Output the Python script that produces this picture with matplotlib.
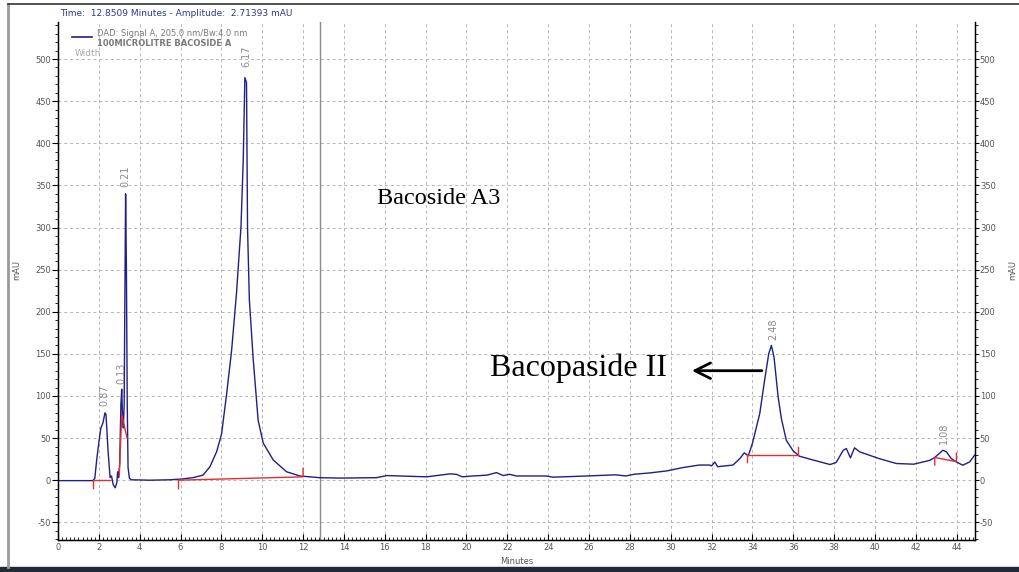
import matplotlib.pyplot as plt
from matplotlib.lines import Line2D
from matplotlib.patches import Rectangle
from matplotlib.ticker import MultipleLocator


# ------------------------------------------------------------
# DATI (letti dal cromatogramma)
# ------------------------------------------------------------

time_min = [
    0.0, 1.7, 1.8, 1.9, 2.0, 2.1, 2.2, 2.3, 2.35, 2.45, 2.55, 2.62, 2.7,
    2.8, 2.88, 2.92, 2.97, 3.02, 3.08, 3.12, 3.16, 3.2, 3.24, 3.27, 3.31,
    3.35, 3.39, 3.43, 3.5, 3.6, 4.5, 5.5, 6.1, 6.6, 7.1, 7.44, 7.77, 8.01,
    8.26, 8.5, 8.74, 8.96, 9.07, 9.15, 9.23, 9.28, 9.37, 9.56, 9.8, 10.05,
    10.54, 11.19, 11.85, 12.8, 13.8, 15.6, 16.1, 18.05, 18.7, 19.2, 19.5,
    19.8, 20.3, 21.0, 21.47, 21.8, 22.1, 22.45, 23.9, 24.25, 25.9, 27.3,
    27.8, 28.2, 29.0, 29.8, 30.6, 31.4, 31.9, 32.0, 32.16, 32.3, 33.05,
    33.4, 33.6, 33.8, 34.0, 34.36, 34.6, 34.8, 34.93, 35.06, 35.26, 35.42,
    35.66, 35.99, 36.3, 36.97, 37.8, 38.1, 38.45, 38.6, 38.8, 39.0, 39.26,
    40.2, 41.05, 41.9, 42.7, 42.93, 43.33, 43.5, 43.74, 43.99, 44.3,
    44.64, 44.88,
]

signal_mau = [
    -0.5, -0.5, 2, 25, 45, 62, 68, 80, 78, 35, 3, 5, -5,
    -9, -3, 10, 3, 20, 90, 108, 75, 62, 90, 200, 340,
    250, 90, 15, 2, 0.5, 0, 0.5, 1.5, 3, 6, 16, 34, 55,
    103, 154, 222, 301, 380, 478, 472, 300, 214, 143, 71, 44,
    24, 10, 5, 3, 2.5, 3, 5.5, 4, 6, 7.5, 7,
    4, 5, 6, 9, 5.5, 7, 5, 5, 3.6, 5, 6.4,
    5, 7, 8.7, 11, 15, 18, 18, 17, 21.5, 16, 18,
    26, 32.5, 29, 43.6, 79, 119, 150, 160, 146, 99, 73,
    47.5, 35, 28.5, 24, 18.6, 21, 35.6, 37.6, 26.5, 38.4, 33.6,
    25.7, 19.8, 19, 23.7, 27, 35.6, 33.6, 25.7, 21.7, 17.8,
    21.7, 29.7,
]

# Linee di integrazione (rosse)
integration_lines = [
    ([1.73, 1.73, 2.55], [-9, 0, 0]),
    ([3.0, 3.12, 3.38], [5, 78, 50]),
    ([5.9, 5.9, 12.0, 12.0], [-10, 0, 4, 14]),
    ([33.76, 33.76, 36.24, 36.24], [22, 30, 30, 39]),
    ([42.93, 42.93, 43.99, 43.99], [18, 27, 22, 32]),
]

peak_labels = ["0.87", "0.13", "0.21", "6.17", "2.48", "1.08"]
peak_label_time = [2.25, 3.1, 3.32, 9.2, 35.0, 43.4]
peak_label_height = [88, 114, 348, 490, 166, 43]

cursor_time = 12.85


# ------------------------------------------------------------
# FIGURA
# ------------------------------------------------------------

plt.rcParams["axes.unicode_minus"] = False

W, H = 1019, 572
fig = plt.figure(figsize=(W / 100, H / 100), dpi=100)

# cornice della finestra
fig.add_artist(Line2D([8 / W, 8 / W], [1 - 4 / H, 1 - 567 / H],
                      color="#9a9a9a", lw=2))
fig.add_artist(Line2D([8 / W, 1], [1 - 4 / H, 1 - 4 / H],
                      color="#333333", lw=1.2))
fig.add_artist(Rectangle((0, 0), 1, 5 / H, color="#1f2b36",
                         transform=fig.transFigure))

ax = fig.add_axes([58 / W, 32 / H, 917 / W, 518 / H])

ax.plot(time_min, signal_mau, color="#1f1f86", lw=1.0, zorder=3)

for xs, ys in integration_lines:
    ax.plot(xs, ys, color="#e0302f", lw=1.0, zorder=4)

for label, t, v in zip(peak_labels, peak_label_time, peak_label_height):
    ax.text(t, v, label, rotation=90, ha="center", va="bottom",
            fontsize=7, color="#8a8a8a")

ax.axvline(cursor_time, color="#8c8c8c", lw=1.0, zorder=2)

ax.set_xlim(0, 44.9)
ax.set_ylim(-71, 544)

ax.xaxis.set_major_locator(MultipleLocator(2))
ax.xaxis.set_minor_locator(MultipleLocator(0.2))
ax.yaxis.set_major_locator(MultipleLocator(50))
ax.yaxis.set_minor_locator(MultipleLocator(10))

ax.grid(which="major", linestyle=(0, (3, 3)), color="#b5b5b5", lw=0.7)
ax.spines["top"].set_visible(False)
for side in ["left", "right", "bottom"]:
    ax.spines[side].set_linewidth(1.0)

ax.tick_params(axis="y", which="major", direction="out", length=4,
               width=0.8, pad=1, labelsize=6, labelcolor="#555555")
ax.tick_params(axis="y", which="minor", direction="out", length=2,
               width=0.6)
ax.tick_params(axis="x", which="major", direction="in", length=4,
               width=0.8, pad=2, labelsize=6, labelcolor="#555555")
ax.tick_params(axis="x", which="minor", direction="in", length=2,
               width=0.6)

ax_right = ax.twinx()
ax_right.set_ylim(ax.get_ylim())
ax_right.yaxis.set_major_locator(MultipleLocator(50))
ax_right.yaxis.set_minor_locator(MultipleLocator(10))
ax_right.spines["top"].set_visible(False)
ax_right.tick_params(which="major", direction="out", length=3, width=0.8,
                     pad=0.5, labelsize=6, labelcolor="#555555")
ax_right.tick_params(which="minor", direction="out", length=2, width=0.6)

# titoli assi
fig.text(517 / W, 1 - 562 / H, "Minutes", fontsize=6, color="#555555",
         ha="center", va="center")
fig.text(17 / W, 1 - 270 / H, "mAU", fontsize=6, color="#555555",
         rotation=90, ha="center", va="center")
fig.text(1013 / W, 1 - 270 / H, "mAU", fontsize=6, color="#555555",
         rotation=90, ha="center", va="center")

# intestazione e legenda
fig.text(60 / W, 1 - 14 / H,
         "Time:  12.8509 Minutes - Amplitude:  2.71393 mAU",
         fontsize=6.5, color="#2b3990", va="center")
fig.add_artist(Line2D([72 / W, 92 / W], [1 - 37 / H, 1 - 37 / H],
                      color="#1f1f86", lw=1.2))
fig.text(97 / W, 1 - 33 / H, "DAD: Signal A, 205.0 nm/Bw:4.0 nm",
         fontsize=6, color="#7a7a7a", va="center")
fig.text(97 / W, 1 - 43 / H, "100MICROLITRE BACOSIDE A",
         fontsize=6, color="#7a7a7a", va="center", fontweight="bold")
fig.text(75 / W, 1 - 53 / H, "Width", fontsize=6.5, color="#a8a8a8",
         va="center")

# annotazioni
ax.text(15.6, 334, "Bacoside A3", family="Liberation Serif",
        fontsize=17.5, va="center", ha="left")
ax.text(21.15, 133, "Bacopaside II", family="Liberation Serif",
        fontsize=23, va="center", ha="left")
ax.annotate("", xy=(30.9, 130), xytext=(34.6, 130),
            arrowprops=dict(arrowstyle="->", lw=2, color="black",
                            mutation_scale=28))

fig.savefig("out.png", dpi=100)
